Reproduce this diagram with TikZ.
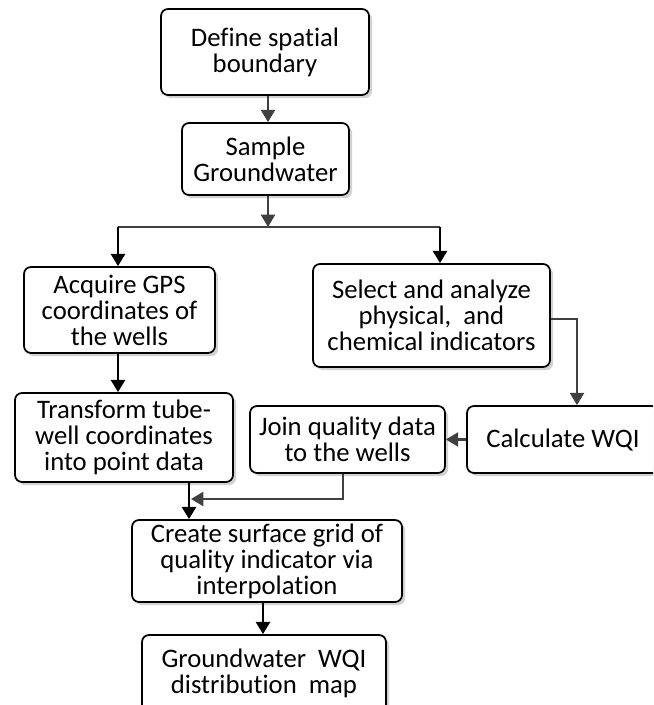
\documentclass[tikz,border=0pt]{standalone}
\usepackage{fontspec}
\setmainfont[Ligatures=NoCommon]{Carlito}
\usetikzlibrary{arrows.meta,shadows,calc}

\begin{document}
\begin{tikzpicture}[x=0.02cm, y=-0.02cm, line width=1.1pt,
	font=\fontsize{15.2}{14.8}\selectfont,
	passo/.style 2 args={draw=black, line width=1.0pt, rounded corners=4pt,
		fill=white, align=center, inner sep=1pt,
		minimum width={#1*0.02cm}, minimum height={#2*0.02cm},
		drop shadow={shadow xshift=1.8pt, shadow yshift=-1.8pt, fill=black!35}},
	fgrigia/.style={draw=black!75, line width=1.2pt,
		-{Triangle[length=7pt, width=8pt]}},
	fnera/.style={draw=black, line width=1.6pt,
		-{Triangle[length=7pt, width=8pt]}},
	lgrigia/.style={draw=black!75, line width=1.2pt},
	]
	
	\useasboundingbox (0,0) rectangle (653,705);
	\clip (0,0) rectangle (653,705);
	
	%% ── Blocchi ──────────────────────────────────────────────────────────────
	\node[passo={208}{86}] (confine) at (265,52) {Define spatial\\boundary};
	\node[passo={167}{72}] (campione) at (265.5,159) {Sample\\Groundwater};
	\node[passo={191}{86}] (gps) at (119.5,310) {Acquire GPS\\coordinates of\\the wells};
	\node[passo={237}{103}] (indic) at (431.5,315.5) {Select and analyze\\physical,\ \ and\\chemical indicators};
	\node[passo={218}{89}] (trasf) at (124,437.5) {Transform tube-\\well coordinates\\into point data};
	\node[passo={195}{67}] (unisci) at (347.5,439.5) {Join quality data\\to the wells};
	\node[passo={192}{67}] (wqi) at (563,439.5) {Calculate WQI};
	\node[passo={270}{82}] (griglia) at (267,561) {Create surface grid of\\quality indicator via\\interpolation};
	\node[passo={244}{77}] (mappa) at (264,673.5) {Groundwater\ \ WQI\\distribution\ \ map};
	
	%% ── Punti di snodo ───────────────────────────────────────────────────────
	\coordinate (diram) at (268,227);
	\coordinate (dirS) at (118,227);
	\coordinate (dirD) at (440,227);
	\coordinate (gomito) at (577,319);
	\coordinate (ritorno) at (343,499);
	
	%% ── Collegamenti ─────────────────────────────────────────────────────────
	\draw[fgrigia] (confine.south -| diram) -- (campione.north -| diram);
	\draw[fgrigia] (campione.south -| diram) -- (diram);
	\draw[lgrigia] (dirS) -- (dirD);
	\draw[fnera] (dirS) -- (gps.north -| dirS);
	\draw[fnera] (dirD) -- (indic.north -| dirD);
	\draw[fgrigia] (indic.east |- gomito) -- (gomito) -- (wqi.north -| gomito);
	\draw[fgrigia] (wqi.west) -- (unisci.east);
	\draw[fnera] (gps.south -| 118,0) -- (trasf.north -| 118,0);
	\draw[fgrigia] (unisci.south -| ritorno) -- (ritorno) -- (191,499);
	\draw[fnera] (trasf.south -| 189,0) -- (griglia.north -| 189,0);
	\draw[fnera] (griglia.south -| 263,0) -- (mappa.north -| 263,0);
	
\end{tikzpicture}
\end{document}
